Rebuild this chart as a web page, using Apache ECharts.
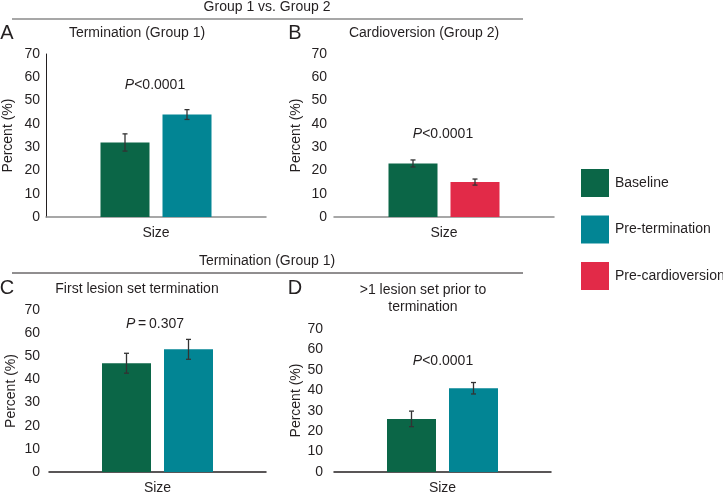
<!DOCTYPE html>
<html>
<head>
<meta charset="utf-8">
<script src="https://cdn.jsdelivr.net/npm/echarts@6/dist/echarts.min.js"></script>
<style>
  html, body { margin: 0; padding: 0; background: #fff; }
  #main { width: 723px; height: 495px; }
</style>
</head>
<body>
<div id="main"></div>
<script>
// data
var categories = ['Size'];
var seriesNames = ['Baseline', 'Pre-termination', 'Pre-cardioversion'];
var yTicks = [0, 10, 20, 30, 40, 50, 60, 70];

// panel A: termination (group 1)
var aMeans = [32, 44];
var aErrs = [3.7, 2.1];
// panel B: cardioversion (group 2)
var bMeans = [23, 15];
var bErrs = [1.5, 1.3];
// panel C: first lesion set termination
var cMeans = [47, 53];
var cErrs = [4.3, 4.3];
// panel D: >1 lesion set prior to termination
var dMeans = [26, 41];
var dErrs = [3.8, 2.8];

var colors = {
  'Baseline': '#0b6647',
  'Pre-termination': '#028594',
  'Pre-cardioversion': '#e22a48'
};

var FONT = '"Liberation Sans", Arial, Helvetica, sans-serif';
var TXT = '#231f20';
var BAR_W = 49;
var GAP = 13;

var myChart = echarts.init(document.getElementById('main'));

// panels: grid box, axis colours, which series go in
var panels = [
  { grid: { left: 46, top: 54, width: 220, height: 163 }, names: ['Baseline', 'Pre-termination'], means: aMeans, errs: aErrs, yLine: true, xColor: '#8a8a8a', labelMargin: 6 },
  { grid: { left: 334, top: 54, width: 220, height: 163 }, names: ['Baseline', 'Pre-cardioversion'], means: bMeans, errs: bErrs, yLine: false, xColor: '#8a8a8a', labelMargin: 7 },
  { grid: { left: 49, top: 310, width: 217, height: 163 }, names: ['Baseline', 'Pre-termination'], means: cMeans, errs: cErrs, yLine: false, xColor: '#231f20', labelMargin: 9 },
  { grid: { left: 334, top: 329, width: 217, height: 144 }, names: ['Baseline', 'Pre-termination'], means: dMeans, errs: dErrs, yLine: false, xColor: '#231f20', labelMargin: 11 }
];

var grids = [], xAxes = [], yAxes = [], series = [];

panels.forEach(function (p, i) {
  grids.push(p.grid);
  xAxes.push({
    type: 'category',
    gridIndex: i,
    data: categories,
    axisLine: { lineStyle: { color: p.xColor, width: 1.5 } },
    axisTick: { show: false },
    axisLabel: { color: TXT, fontSize: 14, fontFamily: FONT, margin: 9 }
  });
  yAxes.push({
    type: 'value',
    gridIndex: i,
    min: 0,
    max: yTicks[yTicks.length - 1],
    interval: 10,
    name: 'Percent (%)',
    nameLocation: 'middle',
    nameGap: 31,
    nameTextStyle: { color: TXT, fontSize: 14, fontFamily: FONT },
    axisLine: { show: p.yLine, lineStyle: { color: '#231f20', width: 1 } },
    axisTick: { show: false },
    splitLine: { show: false },
    axisLabel: { color: TXT, fontSize: 14, fontFamily: FONT, margin: p.labelMargin }
  });
  p.names.forEach(function (n, k) {
    series.push({
      name: n,
      type: 'bar',
      xAxisIndex: i,
      yAxisIndex: i,
      barWidth: BAR_W,
      barGap: (GAP / BAR_W * 100) + '%',
      itemStyle: { color: colors[n] },
      data: [p.means[k]]
    });
  });
  // error bars
  series.push({
    name: 'err' + i,
    type: 'custom',
    xAxisIndex: i,
    yAxisIndex: i,
    silent: true,
    z: 5,
    data: p.means.map(function (m, k) { return [0, k, m, p.errs[k]]; }),
    encode: { x: 0, y: 2 },
    renderItem: function (params, api) {
      var k = api.value(1);
      var m = api.value(2), e = api.value(3);
      var off = (k - 0.5) * (BAR_W + GAP);
      var hi = api.coord([api.value(0), m + e]);
      var lo = api.coord([api.value(0), m - e]);
      var x = hi[0] + off;
      var st = { stroke: '#333', lineWidth: 1.3 };
      return {
        type: 'group',
        children: [
          { type: 'line', shape: { x1: x, y1: hi[1], x2: x, y2: lo[1] }, style: st },
          { type: 'line', shape: { x1: x - 2.5, y1: hi[1], x2: x + 2.5, y2: hi[1] }, style: st },
          { type: 'line', shape: { x1: x - 2.5, y1: lo[1], x2: x + 2.5, y2: lo[1] }, style: st }
        ]
      };
    }
  });
});

function txt(x, y, s, size, extra) {
  var style = {
    x: x, y: y, text: s,
    fill: TXT,
    font: size + 'px ' + FONT,
    textAlign: 'center',
    textVerticalAlign: 'middle'
  };
  if (extra) for (var k in extra) style[k] = extra[k];
  return { type: 'text', style: style, z: 10 };
}

function pText(x, y, rest) {
  return txt(x, y, '{i|P}' + rest, 14, {
    rich: { i: { fontStyle: 'italic', fontSize: 14, fontFamily: FONT, fill: TXT } },
    fontSize: 14, fontFamily: FONT
  });
}

var graphics = [
  txt(267, 7, 'Group 1 vs. Group 2', 14),
  { type: 'line', shape: { x1: 12, y1: 19, x2: 523, y2: 19 }, style: { stroke: '#8a8a8a', lineWidth: 1.5 } },
  txt(267, 261, 'Termination (Group 1)', 14),
  { type: 'line', shape: { x1: 12, y1: 273, x2: 523, y2: 273 }, style: { stroke: '#231f20', lineWidth: 1 } },

  txt(7, 33, 'A', 20),
  txt(295, 33, 'B', 20),
  txt(7, 288, 'C', 20),
  txt(295, 288, 'D', 20),

  txt(137, 33, 'Termination (Group 1)', 14),
  txt(424, 33, 'Cardioversion (Group 2)', 14),
  txt(137, 289, 'First lesion set termination', 14),
  txt(423, 290, '>1 lesion set prior to', 14),
  txt(423, 307, 'termination', 14),

  pText(155, 85, '<0.0001'),
  pText(443, 134, '<0.0001'),
  pText(155, 324, '\u2009=\u20090.307'),
  pText(443, 361, '<0.0001')
];

var option = {
  animation: false,
  grid: grids,
  xAxis: xAxes,
  yAxis: yAxes,
  legend: {
    data: seriesNames,
    orient: 'vertical',
    left: 576,
    top: 164,
    icon: 'rect',
    itemWidth: 28,
    itemHeight: 28,
    itemGap: 18.5,
    selectedMode: false,
    textStyle: { color: TXT, fontSize: 14, fontFamily: FONT, padding: [0, 0, 0, 1] }
  },
  graphic: graphics,
  series: series
};

myChart.setOption(option);
</script>
</body>
</html>
